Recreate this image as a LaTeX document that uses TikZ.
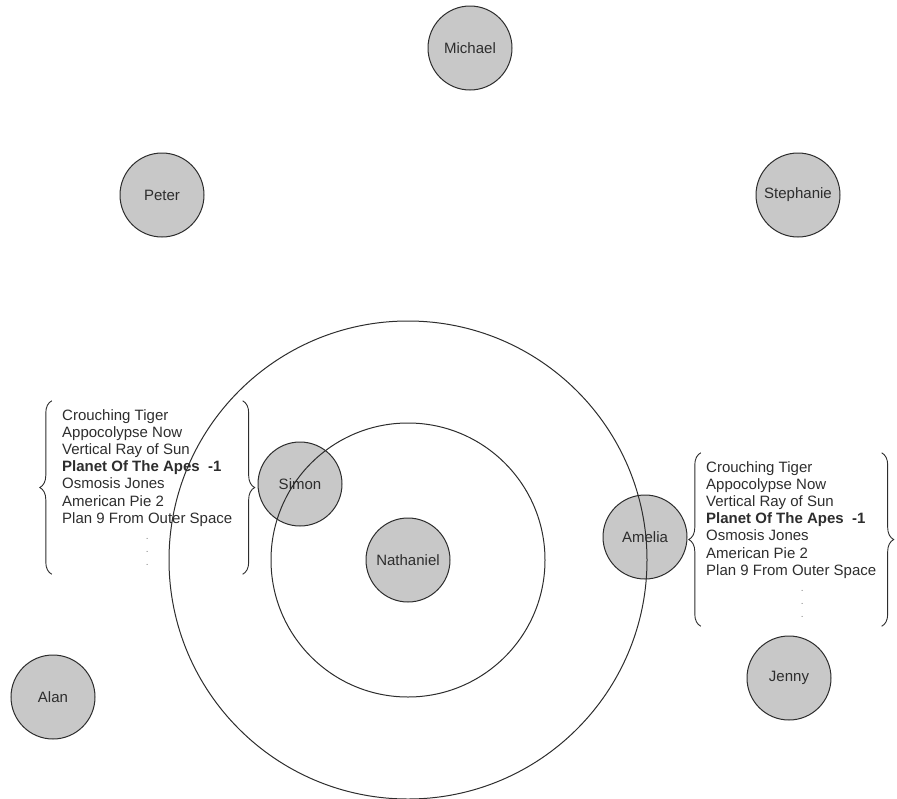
\documentclass[tikz,border=0pt]{standalone}
\usepackage{fontspec}
\setmainfont{Liberation Sans}
\usetikzlibrary{positioning,fit,calc,decorations.pathreplacing}
\definecolor{nodegray}{RGB}{200,200,200}
\definecolor{ink}{RGB}{45,45,45}
\tikzset{
  person/.style={circle, draw=ink, fill=nodegray, line width=1pt, minimum size=84pt,
                 inner sep=0pt, font=\fontsize{15}{17}\selectfont, text=ink},
  orbit/.style={draw=ink, line width=1pt},
  films/.style={align=left, inner sep=0pt, font=\fontsize{15}{17.2}\selectfont, text=ink},
  more/.style={align=center, inner sep=0pt, font=\fontsize{10}{13}\selectfont, text=ink!60},
  group/.style={inner sep=0pt},
  brace/.style={draw=ink, line width=0.9pt, decorate, decoration={brace, amplitude=12pt}}
}

\begin{document}
\begin{tikzpicture}[x=1pt, y=-1pt]
  \useasboundingbox (0,0) rectangle (897,798);
  % people
  \node[person] (michael) at (470,48) {Michael};
  \node[person] (peter) at (162,195) {Peter};
  \node[person] (stephanie) at (798,195) {Stephanie};
  \node[person] (nathaniel) at (408,560) {Nathaniel};
  \node[person] (simon) at (300,484) {Simon};
  \node[person] (amelia) at (645,537) {Amelia};
  \node[person] (alan) at (53,697) {Alan};
  \node[person] (jenny) at (789,678) {Jenny};
  % orbits round nathaniel
  \draw[orbit] (nathaniel.center) circle[radius=137pt];
  \draw[orbit] (nathaniel.center) circle[radius=239pt];
  % film lists
  \node[films, anchor=north west] (simonfilms) at (62,409)
    {Crouching Tiger\\Appocolypse Now\\Vertical Ray of Sun\\\textbf{Planet Of The Apes\ \ -1}\\Osmosis Jones\\American Pie 2\\Plan 9 From Outer Space};
  \node[more, below=12pt of simonfilms] (simonmore) {.\\.\\.};
  \node[group, fit=(simonfilms) (simonmore), inner xsep=10pt, inner ysep=8pt] (simonbox) {};
  \draw[brace] (simonbox.south west) -- (simonbox.north west);
  \draw[brace] (simonbox.north east) -- (simonbox.south east);

  \node[films, anchor=north west] (ameliafilms) at (706,461)
    {Crouching Tiger\\Appocolypse Now\\Vertical Ray of Sun\\\textbf{Planet Of The Apes\ \ -1}\\Osmosis Jones\\American Pie 2\\Plan 9 From Outer Space};
  \node[more, below=12pt of ameliafilms, xshift=11pt] (ameliamore) {.\\.\\.};
  \node[group, fit=(ameliafilms) (ameliamore), inner xsep=5pt, inner ysep=8pt] (ameliabox) {};
  \draw[brace] (ameliabox.south west) -- (ameliabox.north west);
  \draw[brace] (ameliabox.north east) -- (ameliabox.south east);
\end{tikzpicture}
\end{document}
